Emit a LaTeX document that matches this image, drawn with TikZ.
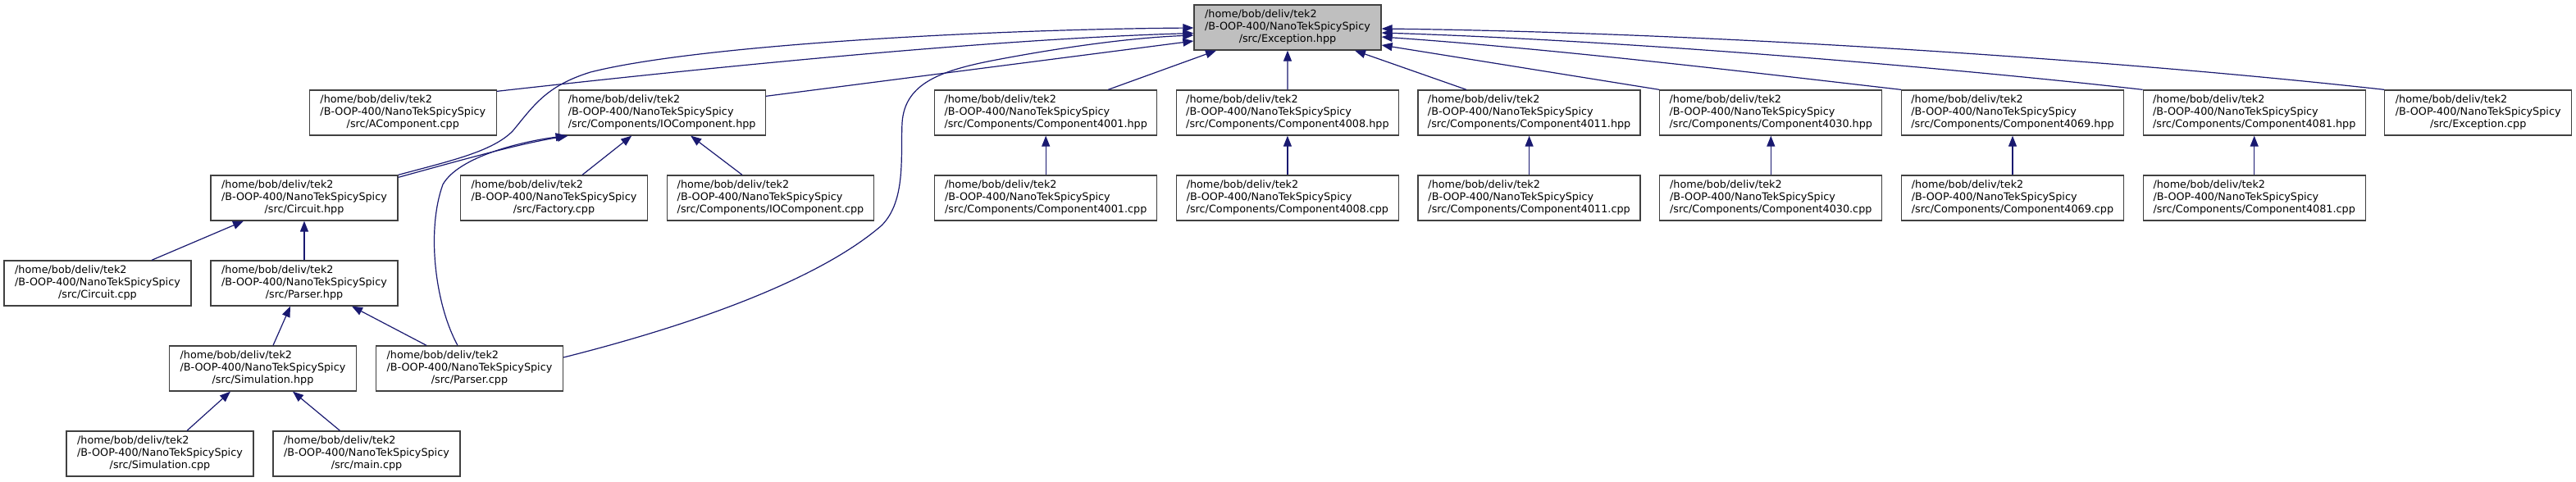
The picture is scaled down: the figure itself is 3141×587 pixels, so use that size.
\documentclass[tikz,border=0pt]{standalone}
\usepackage{fontspec}
\newfontfamily\dxfont{DejaVu Sans}
\usetikzlibrary{arrows.meta}
\definecolor{dxedge}{HTML}{191970}
\definecolor{dxgray}{HTML}{BFBFBF}
\definecolor{dxline}{HTML}{404040}
\newcommand{\dxl}[1]{\begin{tabular}{@{}l@{}}/home/bob/deliv/tek2\\/B-OOP-400/NanoTekSpicySpicy\\\multicolumn{1}{@{}c@{}}{#1}\end{tabular}}
\begin{document}
\begin{tikzpicture}[x=1pt,y=-1pt,
  dbox/.style={draw=dxline, line width=1.3pt, fill=white, minimum height=55pt, inner sep=0pt,
    font={\dxfont\fontsize{12.77}{14.6}\selectfont}},
  wa/.style={minimum width=228pt},
  wb/.style={minimum width=252pt},
  wc/.style={minimum width=271pt},
  dep/.style={draw=dxedge, line width=1.2pt, -{Triangle[length=13pt,width=10pt]}}]
\useasboundingbox (0,0) rectangle (3141,587);
% row 1
\node[dbox, wa, fill=dxgray] (exh) at (1570,33.5) {\dxl{/src/Exception.hpp}};
% row 2
\node[dbox, wa] (acpp) at (491.3,137.5) {\dxl{/src/AComponent.cpp}};
\node[dbox, wb] (ioh) at (807.2,137.5) {\dxl{/src/Components/IOComponent.hpp}};
\node[dbox, wc] (c4001h) at (1275.2,137.5) {\dxl{/src/Components/Component4001.hpp}};
\node[dbox, wc] (c4008h) at (1569.9,137.5) {\dxl{/src/Components/Component4008.hpp}};
\node[dbox, wc] (c4011h) at (1864.6,137.5) {\dxl{/src/Components/Component4011.hpp}};
\node[dbox, wc] (c4030h) at (2159.3,137.5) {\dxl{/src/Components/Component4030.hpp}};
\node[dbox, wc] (c4069h) at (2454.0,137.5) {\dxl{/src/Components/Component4069.hpp}};
\node[dbox, wc] (c4081h) at (2748.7,137.5) {\dxl{/src/Components/Component4081.hpp}};
\node[dbox, wa] (exc) at (3021.7,137.5) {\dxl{/src/Exception.cpp}};
% row 3
\node[dbox, wa] (circh) at (371,241.5) {\dxl{/src/Circuit.hpp}};
\node[dbox, wa] (fact) at (675.5,241.5) {\dxl{/src/Factory.cpp}};
\node[dbox, wb] (iocpp) at (939.5,241.5) {\dxl{/src/Components/IOComponent.cpp}};
\node[dbox, wc] (c4001c) at (1275.2,241.5) {\dxl{/src/Components/Component4001.cpp}};
\node[dbox, wc] (c4008c) at (1569.9,241.5) {\dxl{/src/Components/Component4008.cpp}};
\node[dbox, wc] (c4011c) at (1864.6,241.5) {\dxl{/src/Components/Component4011.cpp}};
\node[dbox, wc] (c4030c) at (2159.3,241.5) {\dxl{/src/Components/Component4030.cpp}};
\node[dbox, wc] (c4069c) at (2454.0,241.5) {\dxl{/src/Components/Component4069.cpp}};
\node[dbox, wc] (c4081c) at (2748.7,241.5) {\dxl{/src/Components/Component4081.cpp}};
% row 4
\node[dbox, wa] (circc) at (119,345.5) {\dxl{/src/Circuit.cpp}};
\node[dbox, wa] (parh) at (371,345.5) {\dxl{/src/Parser.hpp}};
% row 5
\node[dbox, wa] (simh) at (320.5,449.5) {\dxl{/src/Simulation.hpp}};
\node[dbox, wa] (parc) at (572.5,449.5) {\dxl{/src/Parser.cpp}};
% row 6
\node[dbox, wa] (simc) at (195,553.5) {\dxl{/src/Simulation.cpp}};
\node[dbox, wa] (mainc) at (447,553.5) {\dxl{/src/main.cpp}};

% edges into Exception.hpp
\draw[dep] (circh.north east) .. controls (550,196) and (600,185) .. (625,160)
  .. controls (650,130) and (665,105) .. (720,88)
  .. controls (850,55) and (1200,36) .. ([yshift=-0.5pt]exh.west);
\draw[dep] ([yshift=-2pt]acpp.north east) .. controls (850,84) and (1200,48) .. ([yshift=-7pt]exh.west);
\draw[dep] ([yshift=-8pt]ioh.north east) -- ([yshift=-16.5pt]exh.west);
\draw[dep] ([yshift=13.5pt]parc.east) .. controls (850,395) and (1000,340) .. (1075,275)
  .. controls (1105,245) and (1098,190) .. (1100,150)
  .. controls (1103,100) and (1150,85) .. (1220,72)
  .. controls (1300,57) and (1380,46) .. ([yshift=-9.5pt]exh.west);
\draw[dep] ([xshift=76pt]c4001h.north) -- ([xshift=-87pt]exh.south);
\draw[dep] (c4008h.north) -- (exh.south);
\draw[dep] ([xshift=-76.6pt]c4011h.north) -- ([xshift=82pt]exh.south);
\draw[dep] (c4030h.north west) -- ([yshift=-21.5pt]exh.east);
\draw[dep] (c4069h.north west) .. controls (2150,90) and (1900,60) .. ([yshift=-11.5pt]exh.east);
\draw[dep] (c4081h.north west) .. controls (2400,85) and (2000,50) .. ([yshift=-6.5pt]exh.east);
\draw[dep] (exc.north west) .. controls (2600,75) and (2100,40) .. ([yshift=-1.5pt]exh.east);

% edges into IOComponent.hpp
\draw[dep] ([yshift=-3pt]circh.north east) .. controls (560,196) and (630,176) .. ([xshift=12pt]ioh.south west);
\draw[dep] ([xshift=-14.5pt]parc.north) .. controls (530,370) and (520,280) .. (540,225)
  .. controls (560,190) and (640,172) .. ([xshift=10pt]ioh.south west);
\draw[dep] ([xshift=34.5pt]fact.north) -- ([xshift=-37pt]ioh.south);
\draw[dep] ([xshift=-34.5pt]iocpp.north) -- ([xshift=35pt]ioh.south);

% component cpp -> hpp
\foreach \n in {4001,4008,4011,4030,4069,4081}
  \draw[dep] (c\n c.north) -- (c\n h.south);

% lower tree
\draw[dep] ([xshift=66pt]circc.north) -- ([xshift=-74pt]circh.south);
\draw[dep] (parh.north) -- (circh.south);
\draw[dep] ([xshift=12.5pt]simh.north) -- ([xshift=-17pt]parh.south);
\draw[dep] ([xshift=-52.5pt]parc.north) -- ([xshift=58pt]parh.south);
\draw[dep] ([xshift=33pt]simc.north) -- ([xshift=-39.5pt]simh.south);
\draw[dep] ([xshift=-32.5pt]mainc.north) -- ([xshift=36.5pt]simh.south);
\end{tikzpicture}
\end{document}
